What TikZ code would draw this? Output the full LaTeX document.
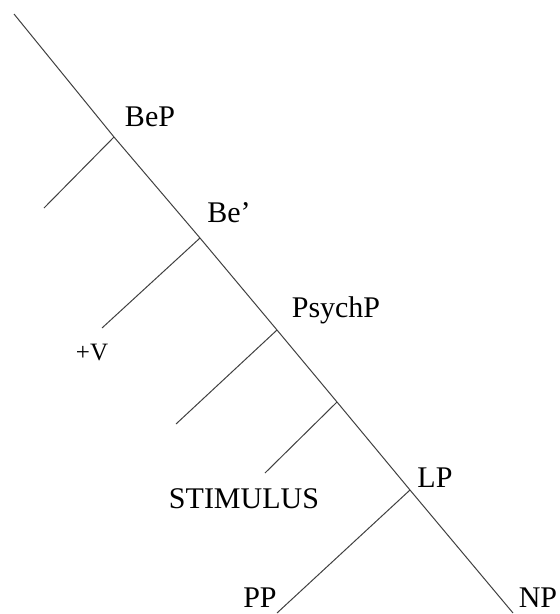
\documentclass[tikz,border=0pt]{standalone}
\usepackage{fontspec}
\setmainfont{Liberation Serif}
\usepackage{tikz}
\tikzset{
  Branch/.style={draw=black!75, line width=1pt},
  Lab/.style={font=\fontsize{30}{32}\selectfont, inner sep=0pt},
  SmallLab/.style={font=\fontsize{25}{27}\selectfont, inner sep=0pt}
}

\begin{document}
\begin{tikzpicture}[x=1pt, y=-1pt]
  \useasboundingbox (0,0) rectangle (560,614);

  % spine points
  \coordinate (top) at (14,14);
  \coordinate (bep) at (114,137);
  \coordinate (bebar) at (200,238);
  \coordinate (psychp) at (277,330);
  \coordinate (psychbar) at (337,402);
  \coordinate (lp) at (410,490);
  \coordinate (np) at (513,613);
  \coordinate (pp) at (277,613);

  % left leaves
  \coordinate (spec) at (44,208);
  \coordinate (v) at (102,328);
  \coordinate (exp) at (176,424);
  \coordinate (stim) at (265,473);

  \node[Lab] (lBeP) at (150,117) {BeP};
  \node[Lab] (lBe) at (229,213) {Be'};
  \node[Lab] (lPsychP) at (336,310) {PsychP};
  \node[Lab] (lLP) at (435,478) {LP};
  \node[Lab] (lStim) at (244,499) {STIMULUS};
  \node[SmallLab] (lV) at (92,352) {+V};
  \node[Lab] (lPP) at (260,598) {PP};
  \node[Lab] (lNP) at (538,598) {NP};

  \draw[Branch] (top)--(bep)--(bebar)--(psychp)--(psychbar)--(lp)--(np);
  \draw[Branch] (bep)--(spec);
  \draw[Branch] (bebar)--(v);
  \draw[Branch] (psychp)--(exp);
  \draw[Branch] (psychbar)--(stim);
  \draw[Branch] (lp)--(pp);
\end{tikzpicture}
\end{document}
